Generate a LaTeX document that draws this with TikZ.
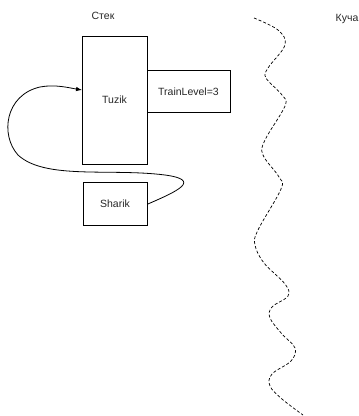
\documentclass[tikz,border=0pt]{standalone}
\usepackage{fontspec}
\setmainfont{Liberation Sans}
\usetikzlibrary{arrows.meta}
\begin{document}
\begin{tikzpicture}[x=1pt,y=-1pt,
  every node/.style={font=\fontsize{10.5}{12}\selectfont, text=black!85},
  cell/.style={draw, line width=0.8pt, inner sep=0pt},
  link/.style={line width=0.8pt, -{Latex[length=6pt,width=4.5pt]}},
  border/.style={line width=0.7pt, dash pattern=on 3pt off 2pt}]
\useasboundingbox (0,0) rectangle (359,416);

% stack frames
\node[cell, minimum width=65pt, minimum height=128pt] (tuzik) at (114.5,100) {Tuzik};
\node[cell, minimum width=83pt, minimum height=42pt] (level) at (188.5,91.7) {TrainLevel=3};
\node[cell, minimum width=64pt, minimum height=43pt] (sharik) at (115,204.2) {Sharik};

% region captions
\node (stack) at (103,16) {Стек};
\node (heap) at (347,19) {Куча};

% reference from Sharik back to Tuzik
\coordinate (target) at (82,90);
\draw[link] (sharik.east) .. controls (178,191) and (202,180) .. (165,175)
  .. controls (110,168) and (45,180) .. (18,155)
  .. controls (0,135) and (5,95) .. (40,87)
  .. controls (55,84) and (70,88) .. (target);

% boundary between stack and heap
\draw[border] plot[smooth, tension=0.6] coordinates {
  (254,18) (278,30) (285,45) (268,68) (266,78) (282,95) (285,106)
  (265,140) (263,155) (279,177) (281,189) (258,230) (255,245)
  (264,263) (285,284) (288,296) (272,307) (270,318) (282,334) (295,348)
  (291,361) (272,374) (270,386) (282,399) (303,415)};
\end{tikzpicture}
\end{document}
